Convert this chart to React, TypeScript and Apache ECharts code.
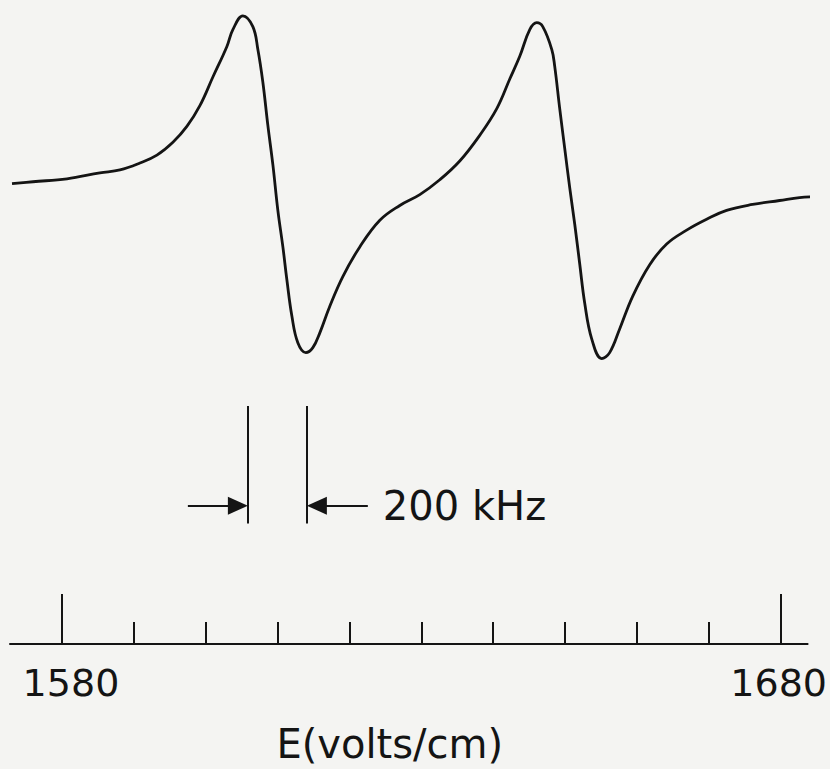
import React, { useEffect, useRef } from "react";
import * as echarts from "echarts";

// Field values (volts/cm)
const fieldE = [
  1573.05, 1575.97, 1580.7, 1585.28, 1588.07, 1590.85, 1593.21, 1595.44, 1597.38, 1599.19,
  1601.0, 1602.95, 1603.78, 1605.17, 1606.56, 1607.26, 1607.95, 1608.65, 1609.35, 1610.04,
  1610.74, 1611.29, 1611.99, 1612.82, 1613.93, 1614.91, 1615.88, 1617.27, 1619.08, 1621.44,
  1624.23, 1627.01, 1629.79, 1632.57, 1635.35, 1638.13, 1640.5, 1642.31, 1643.7, 1645.09,
  1646.06, 1646.9, 1648.15, 1648.56, 1649.26, 1649.95, 1650.65, 1651.35, 1652.04, 1652.74,
  1653.71, 1655.1, 1656.21, 1657.6, 1659.41, 1661.78, 1664.14, 1666.92, 1669.7, 1672.48,
  1676.1, 1679.85, 1682.63, 1685.0,
];
// Derivative signal (arbitrary units)
const signal = [
  4, 6, 9, 15, 18, 25, 33, 46, 62, 83,
  112, 143, 160, 174, 163, 140, 107, 63, 23, -23,
  -60, -93, -130, -157, -167, -162, -147, -120, -90, -60,
  -33, -18, -7, 8, 27, 53, 80, 110, 133, 160,
  167, 163, 140, 123, 80, 40, 0, -37, -77, -117,
  -153, -173, -167, -143, -110, -78, -57, -43, -32, -23,
  -17, -13, -10, -9,
];

const minorTicks = [1580, 1590, 1600, 1610, 1620, 1630, 1640, 1650, 1660, 1670, 1680];
const majorTicks = [1580, 1680];
const tickLabels = [1580, 1680];
const axisTitle = "E(volts/cm)";

// 200 kHz scale marker (field positions of the two bars)
const markerLeftE = 1605.87;
const markerRightE = 1614.08;
const markerLeftArrowStartE = 1597.52;
const markerRightArrowStartE = 1622.56;
const markerBarTop = -221;
const markerBarBottom = -340;
const markerArrowLevel = -322;
const markerLabel = "200 kHz";

const X_MIN = 1572.77;
const X_MAX = 1683.75;
const Y_MIN = -462;
const Y_MAX = 190;

export default function App() {
  const ref = useRef<HTMLDivElement>(null);

  useEffect(() => {
    if (!ref.current) return;
    const chart = echarts.init(ref.current, null, { renderer: "svg" });
    const ink = "#141414";
    const font = "DejaVu Sans";
    const gridLeft = 10;
    const gridWidth = 798;
    const pxPerUnit = gridWidth / (X_MAX - X_MIN);
    const headLen = 20;
    const headOff = headLen / 2 / pxPerUnit;

    const data = fieldE.map((e, i) => [e, signal[i]]);

    chart.setOption({
      animation: false,
      backgroundColor: "#f4f4f2",
      grid: { left: gridLeft, width: gridWidth, top: 0, height: 652, containLabel: false },
      xAxis: [
        {
          type: "value",
          min: X_MIN,
          max: X_MAX,
          position: "bottom",
          splitLine: { show: false },
          axisLine: { show: true, onZero: false, lineStyle: { color: ink, width: 2 } },
          axisTick: {
            show: true,
            inside: true,
            length: 22,
            customValues: minorTicks,
            lineStyle: { color: ink, width: 2 },
          },
          axisLabel: {
            show: true,
            customValues: tickLabels,
            margin: 20,
            color: ink,
            fontSize: 38,
            fontFamily: font,
            formatter: (v: number) => (v === tickLabels[0] ? `{lo|${v}}` : `{hi|${v}}`),
            rich: {
              lo: { fontSize: 38, fontFamily: font, color: ink, padding: [0, 0, 0, 18] },
              hi: { fontSize: 38, fontFamily: font, color: ink, padding: [0, 4, 0, 0] },
            },
          },
          name: axisTitle,
          nameLocation: "middle",
          nameGap: 80,
          nameTextStyle: {
            color: ink,
            fontSize: 40,
            fontFamily: font,
            padding: [0, 38, 0, 0],
          },
        },
        {
          type: "value",
          min: X_MIN,
          max: X_MAX,
          position: "bottom",
          splitLine: { show: false },
          axisLine: { show: false, onZero: false },
          axisTick: {
            show: true,
            inside: true,
            length: 50,
            customValues: majorTicks,
            lineStyle: { color: ink, width: 2 },
          },
          axisLabel: { show: false },
        },
      ],
      yAxis: {
        type: "value",
        min: Y_MIN,
        max: Y_MAX,
        show: false,
        splitLine: { show: false },
      },
      series: [
        {
          type: "line",
          data,
          smooth: 0.4,
          clip: false,
          showSymbol: false,
          symbol: "none",
          lineStyle: { color: ink, width: 2.8 },
          silent: true,
          markLine: {
            silent: true,
            animation: false,
            symbol: ["none", "none"],
            lineStyle: { color: ink, width: 2, type: "solid" },
            label: { show: false },
            data: [
              [
                { coord: [markerLeftE, markerBarTop], symbol: "none" },
                { coord: [markerLeftE, markerBarBottom], symbol: "none" },
              ],
              [
                { coord: [markerRightE, markerBarTop], symbol: "none" },
                { coord: [markerRightE, markerBarBottom], symbol: "none" },
              ],
              [
                { coord: [markerLeftArrowStartE, markerArrowLevel], symbol: "none" },
                {
                  coord: [markerLeftE - headOff, markerArrowLevel],
                  symbol: "triangle",
                  symbolSize: [18, headLen],
                },
              ],
              [
                {
                  coord: [markerRightArrowStartE, markerArrowLevel],
                  symbol: "none",
                },
                {
                  coord: [markerRightE + headOff, markerArrowLevel],
                  symbol: "triangle",
                  symbolSize: [18, headLen],
                },
              ],
            ],
          },
        },
      ],
      graphic: [],
    });

    // place the scale label right of the right arrow
    const p = chart.convertToPixel({ seriesIndex: 0 }, [markerRightArrowStartE, markerArrowLevel]) as number[];
    chart.setOption({
      graphic: [
        {
          type: "text",
          x: p[0] + 15,
          y: p[1],
          style: {
            text: markerLabel,
            fill: ink,
            fontSize: 40,
            fontFamily: font,
            textAlign: "left",
            textVerticalAlign: "middle",
          },
        },
      ],
    });

    return () => chart.dispose();
  }, []);

  return (
    <div
      ref={ref}
      style={{ position: "fixed", left: 0, top: 0, width: 830, height: 769 }}
    />
  );
}
